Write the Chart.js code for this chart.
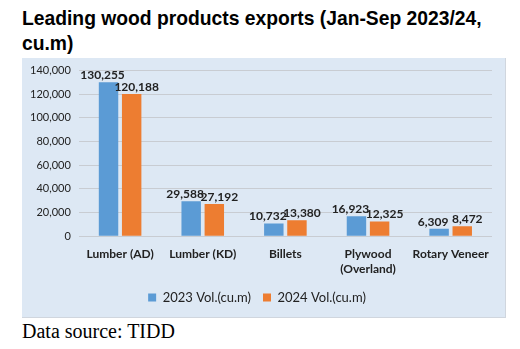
<!DOCTYPE html>
<html>
<head>
<meta charset="utf-8">
<script src="https://cdn.jsdelivr.net/npm/chart.js@4.4.1/dist/chart.umd.min.js"></script>
<style>
  body { margin: 0; background: #fff; width: 520px; height: 349px; position: relative; overflow: hidden; }
  #title { position: absolute; left: 22px; top: 6px; font: bold 19.3px "Liberation Sans", Arial, sans-serif; line-height: 25px; color: #000; }
  #box { position: absolute; left: 22px; top: 58px; width: 483px; height: 259px; background: #dde8f4; border-right: 1px solid #d0d6de; border-bottom: 1px solid #d0d6de; }
  #c { position: absolute; left: 0; top: -2px; }
  #source { position: absolute; left: 22px; top: 320px; font: 20px "Liberation Serif", "Times New Roman", serif; color: #000; }
</style>
</head>
<body>
<div id="title">Leading wood products exports (Jan-Sep 2023/24,<br>cu.m)</div>
<div id="box"><canvas id="c" width="483" height="261"></canvas></div>
<div id="source">Data source: TIDD</div>
<script>
// categories and series
const kategoriler = ["Lumber (AD)", "Lumber (KD)", "Billets", ["Plywood", "(Overland)"], "Rotary Veneer"];
const hacim2023 = [130255, 29588, 10732, 16923, 6309];
const hacim2024 = [120188, 27192, 13380, 12325, 8472];
const seriAdlari = ["2023 Vol.(cu.m)", "2024 Vol.(cu.m)"];

// values above the bars
const degerEtiketleri = {
  id: "degerEtiketleri",
  afterDatasetsDraw(chart) {
    const ctx = chart.ctx;
    ctx.save();
    ctx.font = "bold 12px Lato, sans-serif";
    ctx.fillStyle = "#222";
    ctx.textAlign = "center";
    ctx.textBaseline = "bottom";
    chart.data.datasets.forEach((ds, i) => {
      const meta = chart.getDatasetMeta(i);
      meta.data.forEach((bar, j) => {
        const kayma = i === 0 ? -6 : 5;
        ctx.fillText(ds.data[j].toLocaleString("en-US"), bar.x + kayma, bar.y - 1);
      });
    });
    ctx.restore();
  }
};

new Chart(document.getElementById("c"), {
  type: "bar",
  data: {
    labels: kategoriler,
    datasets: [
      { label: seriAdlari[0], data: hacim2023, backgroundColor: "#5b9bd5" },
      { label: seriAdlari[1], data: hacim2024, backgroundColor: "#ed7d31" }
    ]
  },
  options: {
    responsive: false,
    animation: false,
    categoryPercentage: 0.56,
    barPercentage: 0.84,
    layout: { padding: { top: 0, right: 13, left: 0, bottom: 3 } },
    plugins: {
      tooltip: { enabled: false },
      legend: {
        position: "bottom",
        labels: { boxWidth: 8, boxHeight: 8, color: "#222", font: { family: "Lato", size: 13 }, padding: 12 }
      }
    },
    scales: {
      y: {
        min: 0, max: 140000,
        ticks: { stepSize: 20000, color: "#222", font: { family: "Lato", size: 11 }, padding: 8,
          callback: v => v.toLocaleString("en-US") },
        grid: { color: "#c8ccd2", drawTicks: false },
        border: { display: false }
      },
      x: {
        ticks: { color: "#222", font: { family: "Lato", size: 12, weight: "bold" }, padding: 3, maxRotation: 0 },
        grid: { display: false },
        border: { display: false }
      }
    }
  },
  plugins: [degerEtiketleri]
});
</script>
</body>
</html>
